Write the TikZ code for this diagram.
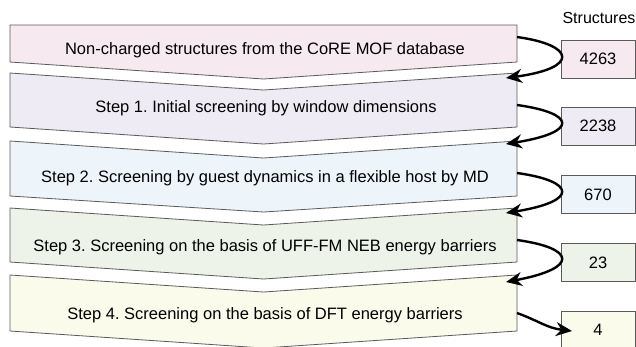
\documentclass[tikz,border=0pt]{standalone}
\usepackage{fontspec}
\setmainfont{Liberation Sans}
\usetikzlibrary{arrows.meta}
\definecolor{cA}{HTML}{F7E9F0}
\definecolor{cB}{HTML}{EFEBF4}
\definecolor{cC}{HTML}{EDF5FB}
\definecolor{cD}{HTML}{EEF3E9}
\definecolor{cE}{HTML}{FBFBEC}
\definecolor{edge}{HTML}{5A5A5A}
\tikzset{
  banner/.style={draw=edge, line width=0.8pt},
  btext/.style={font=\fontsize{16.5}{19}\selectfont, anchor=center, inner sep=0pt},
  countbox/.style={draw=edge, line width=0.8pt, minimum width=74pt, minimum height=38pt, inner sep=0pt, font=\fontsize{16.5}{19}\selectfont},
  flow/.style={line width=2.4pt, -{Stealth[length=16pt,width=14pt]}}
}
\frenchspacing
\begin{document}
\begin{tikzpicture}[x=1pt,y=-1pt]
\useasboundingbox (0,0) rectangle (636,346);
\clip (0,0) rectangle (636,346);
% banners
\draw[banner, fill=cA] (10,25) -- (517,25) -- (517,62) -- (263.5,79) -- (10,62) -- cycle;
\draw[banner, fill=cB] (10,73) -- (263.5,90) -- (517,73) -- (517,127) -- (263.5,144) -- (10,127) -- cycle;
\draw[banner, fill=cC] (10,141) -- (263.5,158) -- (517,141) -- (517,196) -- (263.5,212) -- (10,196) -- cycle;
\draw[banner, fill=cD] (10,208) -- (263.5,225) -- (517,208) -- (517,262) -- (263.5,279) -- (10,262) -- cycle;
\draw[banner, fill=cE] (10,275) -- (263.5,292) -- (517,275) -- (517,331) -- (263.5,348) -- (10,331) -- cycle;
% texts
\node[btext] (t0) at (265,50) {Non-charged structures from the CoRE MOF database};
\node[btext] (t1) at (266,108) {Step 1. Initial screening by window dimensions};
\node[btext] (t2) at (265,178) {Step 2. Screening by guest dynamics in a flexible host by MD};
\node[btext] (t3) at (265,247) {Step 3. Screening on the basis of UFF-FM NEB energy barriers};
\node[btext] (t4) at (265,315) {Step 4. Screening on the basis of DFT energy barriers};
% count boxes
\node[btext, font=\fontsize{16}{19}\selectfont] (hdr) at (599,18) {Structures};
\node[countbox, fill=cA] (n0) at (598,59) {4263};
\node[countbox, fill=cB] (n1) at (598,126) {2238};
\node[countbox, fill=cC] (n2) at (598,194.5) {670};
\node[countbox, fill=cD] (n3) at (598,262.5) {23};
\node[countbox, fill=cE] (n4) at (598,330) {4};
% arrow end points
\coordinate (s0) at (517,37);  \coordinate (e0) at (506,78);
\coordinate (s1) at (517,105); \coordinate (e1) at (506,144);
\coordinate (s2) at (517,173); \coordinate (e2) at (506,213);
\coordinate (s3) at (517,240); \coordinate (e3) at (506,282);
\coordinate (s4) at (517,313); \coordinate (e4) at (572,331);
\draw[flow] (s0) .. controls +(58,8) and +(74,-10) .. (e0);
\draw[flow] (s1) .. controls +(58,8) and +(74,-12) .. (e1);
\draw[flow] (s2) .. controls +(58,8) and +(74,-12) .. (e2);
\draw[flow] (s3) .. controls +(58,8) and +(74,-14) .. (e3);
\draw[flow] (s4) .. controls +(22,8) and +(-25,-3) .. (e4);
\end{tikzpicture}
\end{document}
